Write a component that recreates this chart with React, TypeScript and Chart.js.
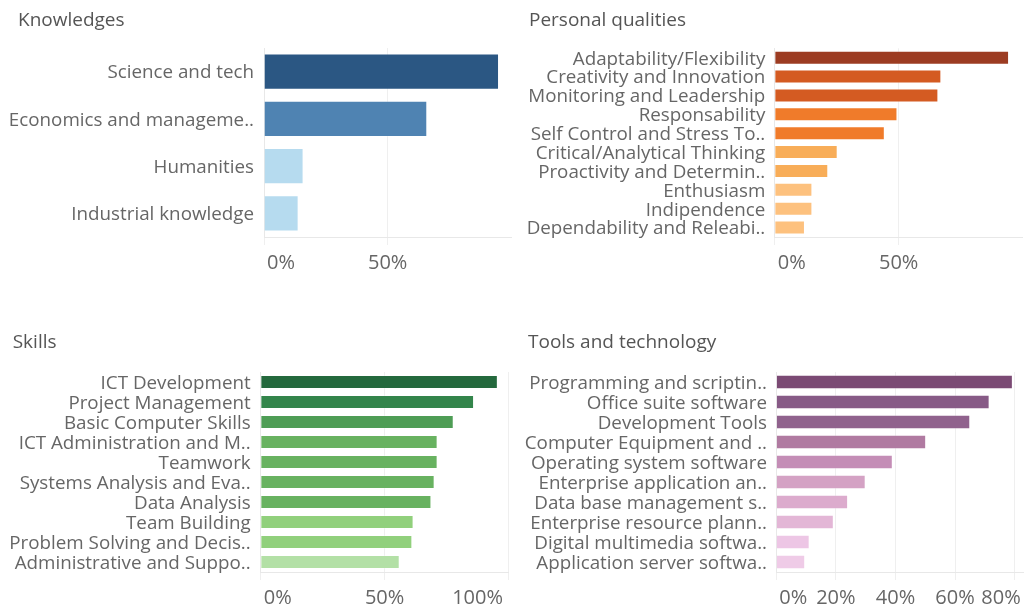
import React, { useEffect, useRef } from "react";
import { Chart, registerables } from "chart.js";

Chart.register(...registerables);

// ---------- data ----------
const knowledgeLabels = ["Science and tech", "Economics and manageme..", "Humanities", "Industrial knowledge"];
const knowledgeValues = [95, 66, 16, 14];
const knowledgeColors = ["#2b5783", "#4f83b2", "#b6dbef", "#b6dbef"];
const knowledgeTicks = [0, 50];

const personalLabels = [
  "Adaptability/Flexibility",
  "Creativity and Innovation",
  "Monitoring and Leadership",
  "Responsability",
  "Self Control and Stress To..",
  "Critical/Analytical Thinking",
  "Proactivity and Determin..",
  "Enthusiasm",
  "Indipendence",
  "Dependability and Releabi..",
];
const personalValues = [94.5, 67.2, 66.0, 49.5, 44.4, 25.4, 21.6, 15.2, 15.2, 12.2];
const personalColors = ["#9c3c22", "#d45b22", "#d45b22", "#f07b2a", "#f07b2a", "#f8ad58", "#f8ad58", "#fdc17e", "#fdc17e", "#fdc17e"];
const personalTicks = [0, 50];

const skillsLabels = [
  "ICT Development",
  "Project Management",
  "Basic Computer Skills",
  "ICT Administration and M..",
  "Teamwork",
  "Systems Analysis and Eva..",
  "Data Analysis",
  "Team Building",
  "Problem Solving and Decis..",
  "Administrative and Suppo..",
];
const skillsValues = [95.7, 86.1, 77.9, 71.4, 71.4, 70.2, 68.9, 61.7, 61.2, 56.1];
const skillsColors = ["#24693d", "#33854b", "#4e9d55", "#68b260", "#68b260", "#68b260", "#68b260", "#91d07c", "#91d07c", "#b3e0a6"];
const skillsTicks = [0, 50, 100];

const toolsLabels = [
  "Programming and scriptin..",
  "Office suite software",
  "Development Tools",
  "Computer Equipment and ..",
  "Operating system software",
  "Enterprise application an..",
  "Data base management s..",
  "Enterprise resource plann..",
  "Digital multimedia softwa..",
  "Application server softwa..",
];
const toolsValues = [79.4, 71.6, 65.1, 50.3, 39.1, 30.0, 24.1, 19.3, 11.2, 9.7];
const toolsColors = ["#7b4a74", "#875a86", "#90628d", "#b07aa1", "#c48db6", "#d4a2c4", "#dcabcd", "#e3b6d6", "#edc6e5", "#efcbe7"];
const toolsTicks = [0, 20, 40, 60, 80];

// ---------- rendering ----------
const FONT = "'Open Sans', sans-serif";
const LABEL_SIZE = 18.8;
const TICK_SIZE = 20;
const TITLE_SIZE = 19;

const decoPlugin = {
  id: "panelDeco",
  afterDraw(chart: any, _args: any, opts: any) {
    const ctx = chart.ctx;
    ctx.save();
    ctx.font = `${TITLE_SIZE}px ${FONT}`;
    ctx.fillStyle = "#555555";
    ctx.textAlign = "left";
    ctx.textBaseline = "middle";
    ctx.fillText(opts.title, opts.titleX, opts.titleY);

    const xs = chart.scales.x;
    ctx.font = `${TICK_SIZE}px ${FONT}`;
    ctx.fillStyle = "#666666";
    (opts.ticks as number[]).forEach((v) => {
      const label = `${v}%`;
      const w = ctx.measureText(label).width;
      const px = xs.getPixelForValue(v);
      let l = px - w / 2;
      l = Math.max(l, xs.left + 3);
      l = Math.min(l, opts.tickRightLimit - w);
      ctx.fillText(label, l, chart.chartArea.bottom + 26.5);
    });
    ctx.restore();
  },
};

type PanelProps = {
  title: string;
  labels: string[];
  values: number[];
  colors: string[];
  ticks: number[];
  max: number;
  left: number;
  top: number;
  width: number;
  height: number;
  zeroX: number;
  plotTop: number;
  plotBottom: number;
  plotRight: number;
  tickRightLimit: number;
  titleX: number;
  titleY: number;
  barPct: number;
  labelPad: number;
};

function Panel(p: PanelProps) {
  const ref = useRef<HTMLCanvasElement | null>(null);
  useEffect(() => {
    if (!ref.current) return;
    const chart = new Chart(ref.current, {
      type: "bar",
      data: {
        labels: p.labels,
        datasets: [
          {
            data: p.values,
            backgroundColor: p.colors,
            borderColor: "rgba(255,255,255,0.25)",
            borderWidth: 1,
            barPercentage: p.barPct,
            categoryPercentage: 1,
          },
        ],
      },
      options: {
        indexAxis: "y",
        animation: false,
        responsive: false,
        maintainAspectRatio: false,
        devicePixelRatio: 1,
        layout: {
          padding: {
            top: p.plotTop,
            right: p.width - p.plotRight,
            bottom: p.height - p.plotBottom - 8,
            left: 0,
          },
        },
        plugins: {
          legend: { display: false },
          tooltip: { enabled: false },
          title: { display: false },
          panelDeco: {
            title: p.title,
            titleX: p.titleX,
            titleY: p.titleY,
            ticks: p.ticks,
            tickRightLimit: p.tickRightLimit,
          },
        } as any,
        scales: {
          x: {
            type: "linear",
            min: 0,
            max: p.max,
            grid: { color: "#efefef", drawTicks: true, tickLength: 8, lineWidth: 1 },
            border: { display: true, color: "#e8e8e8" },
            ticks: { display: false },
            afterBuildTicks: (s: any) => {
              s.ticks = p.ticks.map((v) => ({ value: v }));
            },
            afterFit: (s: any) => {
              s.height = 8;
            },
          },
          y: {
            type: "category",
            grid: { display: false, drawTicks: false },
            border: { display: true, color: "#e8e8e8" },
            ticks: {
              color: "#666666",
              font: { family: FONT, size: LABEL_SIZE },
              padding: p.labelPad,
              labelOffset: 1.5,
              autoSkip: false,
            },
            afterFit: (s: any) => {
              s.width = p.zeroX;
            },
          },
        } as any,
      },
      plugins: [decoPlugin],
    });
    return () => chart.destroy();
  }, []);
  return (
    <canvas
      ref={ref}
      width={p.width}
      height={p.height}
      style={{ position: "absolute", left: p.left, top: p.top, width: p.width, height: p.height }}
    />
  );
}

export default function App() {
  return (
    <div style={{ position: "absolute", left: 0, top: 0, width: 1026, height: 607, background: "#ffffff", overflow: "hidden" }}>
      <Panel
        title="Knowledges"
        labels={knowledgeLabels}
        values={knowledgeValues}
        colors={knowledgeColors}
        ticks={knowledgeTicks}
        max={100}
        left={0}
        top={0}
        width={513}
        height={300}
        zeroX={264}
        plotTop={48}
        plotBottom={237}
        plotRight={511.4}
        tickRightLimit={508}
        titleX={18}
        titleY={21}
        barPct={0.762}
        labelPad={10}
      />
      <Panel
        title="Personal qualities"
        labels={personalLabels}
        values={personalValues}
        colors={personalColors}
        ticks={personalTicks}
        max={100}
        left={513}
        top={0}
        width={513}
        height={300}
        zeroX={261.7}
        plotTop={48.3}
        plotBottom={237}
        plotRight={509.7}
        tickRightLimit={507}
        titleX={16}
        titleY={21}
        barPct={0.74}
        labelPad={9.4}
      />
      <Panel
        title="Skills"
        labels={skillsLabels}
        values={skillsValues}
        colors={skillsColors}
        ticks={skillsTicks}
        max={100}
        left={0}
        top={300}
        width={513}
        height={307}
        zeroX={260.7}
        plotTop={72}
        plotBottom={272}
        plotRight={508.5}
        tickRightLimit={503}
        titleX={12.7}
        titleY={42.7}
        barPct={0.7}
        labelPad={10}
      />
      <Panel
        title="Tools and technology"
        labels={toolsLabels}
        values={toolsValues}
        colors={toolsColors}
        ticks={toolsTicks}
        max={83}
        left={513}
        top={300}
        width={513}
        height={307}
        zeroX={263.3}
        plotTop={72}
        plotBottom={272}
        plotRight={510.6}
        tickRightLimit={507.7}
        titleX={15}
        titleY={42.7}
        barPct={0.72}
        labelPad={9.3}
      />
    </div>
  );
}
